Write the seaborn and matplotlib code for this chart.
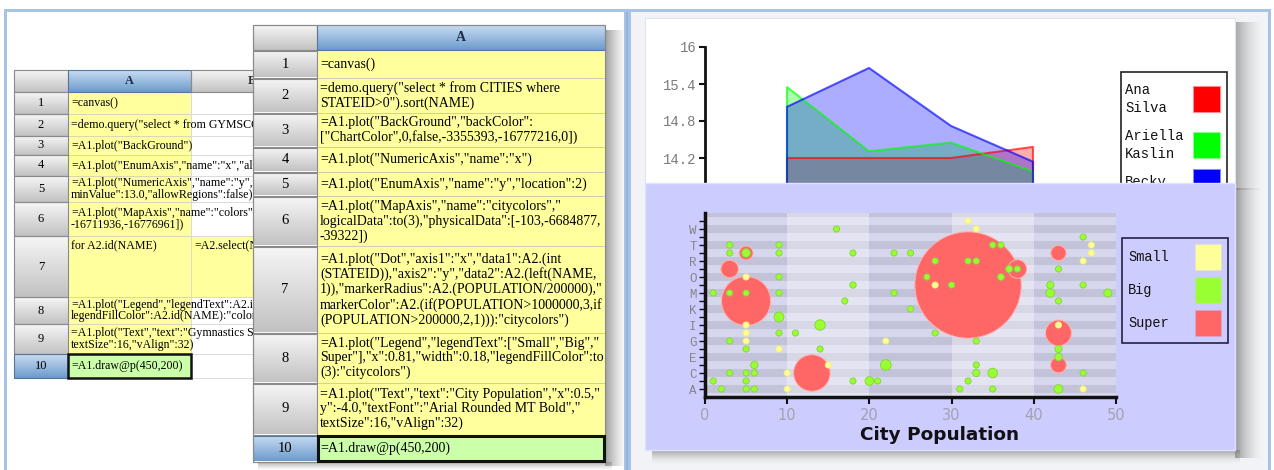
import numpy as np
import pandas as pd
import matplotlib
matplotlib.use("Agg")
import matplotlib.pyplot as plt
from matplotlib.colors import to_rgba
from matplotlib.patches import Rectangle
import seaborn as sns

W, H = 1274, 470

# ---------------- data ----------------
back_cells_A = [
    '=canvas()',
    '=demo.query("select * from GYMSCORE',
    '=A1.plot("BackGround")',
    '=A1.plot("EnumAxis","name":"x","all',
    '=A1.plot("NumericAxis","name":"y",\nminValue":13.0,"allowRegions":false)',
    '=A1.plot("MapAxis","name":"colors"\n-16711936,-16776961])',
    'for A2.id(NAME)',
    '=A1.plot("Legend","legendText":A2.i\nlegendFillColor":A2.id(NAME):"color',
    '=A1.plot("Text","text":"Gymnastics S\ntextSize":16,"vAlign":32)',
    '=A1.draw@p(450,200)',
]
back_cell_B7 = '=A2.select(N'

front_cells_A = [
    '=canvas()',
    '=demo.query("select * from CITIES where\nSTATEID>0").sort(NAME)',
    '=A1.plot("BackGround","backColor":\n["ChartColor",0,false,-3355393,-16777216,0])',
    '=A1.plot("NumericAxis","name":"x")',
    '=A1.plot("EnumAxis","name":"y","location":2)',
    '=A1.plot("MapAxis","name":"citycolors","\nlogicalData":to(3),"physicalData":[-103,-6684877,\n-39322])',
    '=A1.plot("Dot","axis1":"x","data1":A2.(int\n(STATEID)),"axis2":"y","data2":A2.(left(NAME,\n1)),"markerRadius":A2.(POPULATION/200000),"\nmarkerColor":A2.(if(POPULATION>1000000,3,if\n(POPULATION>200000,2,1))):"citycolors")',
    '=A1.plot("Legend","legendText":["Small","Big","\nSuper"],"x":0.81,"width":0.18,"legendFillColor":to\n(3):"citycolors")',
    '=A1.plot("Text","text":"City Population","x":0.5,"\ny":-4.0,"textFont":"Arial Rounded MT Bold","\ntextSize":16,"vAlign":32)',
    '=A1.draw@p(450,200)',
]

# area chart (gymnastics)
area_x = [1, 2, 3, 4]
area_names = ["Ana Silva", "Ariella Kaslin", "Becky"]
ana_silva = [14.2, 14.2, 14.2, 14.38]
ariella_kaslin = [15.35, 14.31, 14.45, 13.98]
becky = [15.03, 15.66, 14.72, 14.14]
area_colors = ["#ff0000", "#00ff00", "#0000ff"]
area_yticks = [14.2, 14.8, 15.4, 16]

# bubble chart (cities)
letters = list("ABCDEFGHIJKLMNOPRSTVWY")
city_state = [1, 1, 2, 3, 3, 3, 3, 3, 3, 5, 5, 5, 5, 5, 5, 5, 5, 5, 5, 5, 5,
              6, 6, 6, 9, 9, 9, 9, 9, 9, 9, 10, 10, 11, 13, 14, 14, 15, 16, 17,
              18, 18, 18, 20, 21, 22, 22, 23, 23, 25, 25,
              27, 28, 28, 28, 30, 31, 32, 32, 32, 32, 33, 33, 33, 33, 33,
              35, 35, 35, 36, 36, 38, 37, 38,
              42, 42, 43, 43, 43, 43, 43, 43, 43, 43, 43, 46, 46, 46, 46, 46,
              47, 47, 49]
city_letter = ['B', 'M', 'A', 'T', 'S', 'P', 'M', 'G', 'C', 'S', 'S', 'O', 'M', 'L', 'I', 'H', 'G', 'F', 'C', 'B', 'A',
               'D', 'C', 'A', 'T', 'S', 'O', 'M', 'J', 'H', 'F', 'C', 'A', 'H', 'C', 'I', 'F', 'D', 'W', 'L',
               'N', 'S', 'B', 'B', 'B', 'G', 'D', 'S', 'M', 'S', 'K',
               'O', 'R', 'N', 'H', 'N', 'A', 'Y', 'R', 'N', 'B', 'W', 'R', 'G', 'D', 'C',
               'T', 'C', 'A', 'T', 'O', 'P', 'P', 'P',
               'N', 'M', 'S', 'P', 'L', 'I', 'H', 'F', 'E', 'D', 'A', 'V', 'R', 'N', 'C', 'A',
               'T', 'S', 'M']
city_pop = [240, 210, 280, 480, 220, 1320, 440, 220, 230, 1050, 640, 190, 210, 3700, 150, 160, 190, 430, 210, 250, 330,
            550, 360, 280, 300, 300, 210, 360, 740, 230, 150, 180, 100, 370, 2750, 780, 220, 195, 340, 260,
            480, 210, 230, 650, 300, 195, 800, 290, 380, 350, 440,
            390, 210, 115, 210, 270, 450, 195, 220, 8000, 290, 185, 280, 225, 210, 540,
            310, 710, 215, 390, 500, 1400, 530, 330,
            545, 650, 1150, 220, 215, 190, 1950, 530, 560, 1190, 650, 425, 195, 235, 210, 130,
            195, 195, 600]
class_names = ["Small", "Big", "Super"]
class_colors = ["#ffff99", "#99ff33", "#ff6666"]

# ---------------- helpers ----------------
fig = plt.figure(figsize=(W / 100, H / 100), dpi=100)
fig.patch.set_facecolor("white")


def fr(x0, y0, x1, y1):
    return [x0 / W, 1 - y1 / H, (x1 - x0) / W, (y1 - y0) / H]


def canvas(z):
    a = fig.add_axes([0, 0, 1, 1])
    a.set_xlim(0, W)
    a.set_ylim(H, 0)
    a.set_autoscale_on(False)
    a.axis("off")
    a.set_zorder(z)
    a.patch.set_alpha(0)
    return a


def grad(a, x0, y0, x1, y1, c0, c1, horizontal=False, z=1):
    t = np.linspace(0, 1, 48)[:, None]
    arr = np.array(to_rgba(c0)) * (1 - t) + np.array(to_rgba(c1)) * t
    img = arr[None, :, :] if horizontal else arr[:, None, :]
    a.imshow(img, extent=(x0, x1, y1, y0), aspect="auto",
             interpolation="bilinear", zorder=z)


def rect(a, x0, y0, x1, y1, fc="none", ec="none", lw=0, z=1):
    a.add_patch(Rectangle((x0, y0), x1 - x0, y1 - y0, facecolor=fc,
                          edgecolor=ec, linewidth=lw, zorder=z))


SERIF = "Liberation Serif"
MONO = "Liberation Mono"
YELLOW = "#ffff9e"
GREEN = "#ccffaa"

# ---------------- background canvas ----------------
bg = canvas(0)
frame_c = "#a8c4e4"
rect(bg, 631, 12, 1268, 470, fc="#f1f3f6", z=0.5)
rect(bg, 4, 9, 1271, 12, fc=frame_c, z=20)
rect(bg, 4, 9, 7, 470, fc=frame_c, z=20)
rect(bg, 1268, 9, 1271, 470, fc=frame_c, z=20)
rect(bg, 624, 12, 631, 470, fc=frame_c, z=20)
rect(bg, 626, 12, 628, 470, fc="#93b4da", z=20.1)


def button(a, x0, y0, x1, y1, blue=False, z=1):
    if blue:
        grad(a, x0, y0, x1, y1, "#c8ddf2", "#6d9bcc", z=z)
        rect(a, x0, y0, x1, y1, ec="#56769c", lw=0.8, z=z + 0.05)
    else:
        grad(a, x0, y0, x1, y1, "#f6f6f6", "#c2c2c2", z=z)
        rect(a, x0, y0, x1, y1, ec="#8a8a8a", lw=0.8, z=z + 0.05)


back_clip = Rectangle((0, 0), 252, H, transform=bg.transData)
BFS = 8.6

# ---- back spreadsheet ----
bxn, bxa, bxb = (14, 68), (68, 191), (191, 311)
b_head = (70, 92)
b_rows = [(92, 114), (114, 136), (136, 155), (155, 176), (176, 202), (202, 236),
          (236, 297), (297, 324), (324, 354), (354, 378)]
zb = 2
button(bg, bxn[0], b_head[0], bxn[1], b_head[1], z=zb)
button(bg, bxa[0], b_head[0], bxa[1], b_head[1], blue=True, z=zb)
button(bg, bxb[0], b_head[0], bxb[1], b_head[1], z=zb)
bg.text(sum(bxa) / 2, sum(b_head) / 2, "A", family=SERIF, fontsize=8.8,
        weight="bold", color="#1b2a48", ha="center", va="center", zorder=zb + 1)
tb = bg.text(252, sum(b_head) / 2, "B", family=SERIF, fontsize=8.8,
             weight="bold", color="#333333", ha="center", va="center", zorder=zb + 1)
tb.set_clip_path(back_clip)
for i, (y0, y1) in enumerate(b_rows):
    last = i == len(b_rows) - 1
    button(bg, bxn[0], y0, bxn[1], y1, blue=last, z=zb)
    bg.text(sum(bxn) / 2, (y0 + y1) / 2, str(i + 1), family=SERIF, fontsize=9,
            ha="center", va="center", zorder=zb + 1)
    rect(bg, bxa[0], y0, bxa[1], y1, fc=GREEN if last else YELLOW,
         ec="#d4d4b4", lw=0.6, z=zb)
    rect(bg, bxb[0], y0, bxb[1], y1, fc=YELLOW if i == 6 else "white",
         ec="#d8d8d8", lw=0.6, z=zb)
    top = i == 6
    t = bg.text(bxa[0] + 3, y0 + 3 if top else (y0 + y1) / 2, back_cells_A[i],
                family=SERIF, fontsize=BFS, linespacing=0.95, ha="left",
                va="top" if top else "center", zorder=zb + 1)
    t.set_clip_path(back_clip)
    if i == 6:
        t = bg.text(bxb[0] + 3, y0 + 3, back_cell_B7, family=SERIF, fontsize=BFS,
                    ha="left", va="top", zorder=zb + 1)
        t.set_clip_path(back_clip)
    if last:
        rect(bg, bxa[0], y0, bxa[1], y1, ec="#111111", lw=1.8, z=zb + 0.5)

# ---- front spreadsheet ----
fxn, fxa = (253, 317), (317, 605)
f_head = (25, 50)
f_rows = [(50, 78), (78, 113), (113, 147), (147, 172), (172, 196), (196, 246),
          (246, 333), (333, 383), (383, 435), (435, 462)]
zf = 10
grad(bg, 605, 30, 626, 466, (0.55, 0.55, 0.55, 0.85), (0.7, 0.7, 0.7, 0.0),
     horizontal=True, z=zf - 1)
grad(bg, 258, 462, 612, 470, (0.55, 0.55, 0.55, 0.7), (0.7, 0.7, 0.7, 0.0), z=zf - 1)
rect(bg, fxn[0], f_head[0], fxa[1], f_rows[-1][1], fc="white", z=zf - 0.5)
button(bg, fxn[0], f_head[0], fxn[1], f_head[1], z=zf)
button(bg, fxa[0], f_head[0], fxa[1], f_head[1], blue=True, z=zf)
bg.text(sum(fxa) / 2, sum(f_head) / 2, "A", family=SERIF, fontsize=10,
        weight="bold", color="#1b2a48", ha="center", va="center", zorder=zf + 1)
for i, (y0, y1) in enumerate(f_rows):
    last = i == len(f_rows) - 1
    button(bg, fxn[0], y0 + 0.5, fxn[1], y1 - 0.5, blue=last, z=zf)
    bg.text(sum(fxn) / 2, (y0 + y1) / 2, str(i + 1), family=SERIF, fontsize=10.5,
            ha="center", va="center", zorder=zf + 1)
    rect(bg, fxa[0], y0, fxa[1], y1, fc=GREEN if last else YELLOW,
         ec="#cfcfae", lw=0.7, z=zf)
    bg.text(fxa[0] + 3, (y0 + y1) / 2, front_cells_A[i], family=SERIF,
            fontsize=10.0, linespacing=1.14, ha="left", va="center", zorder=zf + 1)
    if last:
        rect(bg, fxa[0] + 1, y0 + 1, fxa[1] - 1, y1 - 1, ec="#111111", lw=2.2,
             z=zf + 0.5)
rect(bg, fxn[0], f_head[0], fxa[1], f_rows[-1][1], ec="#8a8a8a", lw=0.8, z=zf + 0.3)

# ---- area chart card ----
grad(bg, 1235, 22, 1262, 190, (0.55, 0.55, 0.55, 0.75), (0.8, 0.8, 0.8, 0.0),
     horizontal=True, z=3)
rect(bg, 645, 18, 1235, 190, fc="white", ec="#e2e6ea", lw=0.8, z=4)

# ---------------- area chart ----------------
ax1 = fig.add_axes(fr(705, 47, 1115, 232))
ax1.set_zorder(1)
ax1.patch.set_alpha(0)
for vals, c in zip([ana_silva, ariella_kaslin, becky], area_colors):
    ax1.fill_between(area_x, vals, 13, facecolor=to_rgba(c, 0.32), edgecolor="none")
    xs = [area_x[0]] + list(area_x) + [area_x[-1]]
    ys = [13] + list(vals) + [13]
    sns.lineplot(x=xs, y=ys, color=c, alpha=0.65, lw=1.5, estimator=None,
                 sort=False, ax=ax1)
ax1.set_xlim(0, 5)
ax1.set_ylim(13, 16)
ax1.set_xticks([])
ax1.set_yticks(area_yticks)
ax1.set_yticklabels([f"{v:g}" for v in area_yticks])
for s in ["top", "right", "bottom"]:
    ax1.spines[s].set_visible(False)
ax1.spines["left"].set_linewidth(2)
ax1.spines["left"].set_color("#111111")
ax1.tick_params(axis="y", direction="out", length=4, width=1.5, color="#111111",
                labelsize=10, labelcolor="#7c7c7c", pad=2)
for lab in ax1.get_yticklabels():
    lab.set_family(MONO)
ax1.set_xlabel("")
ax1.set_ylabel("")

# area legend
ov1 = canvas(2)
rect(ov1, 1121, 72, 1227, 250, fc="white", ec="#222222", lw=1.2, z=1)
leg_y = [99, 145, 182]
for name, c, yc in zip(area_names, area_colors, leg_y):
    ov1.text(1125, yc, name.replace(" ", "\n"), family=MONO, fontsize=10,
             linespacing=1.3, ha="left", va="center", color="#111111", zorder=2)
    rect(ov1, 1194, yc - 12.5, 1220, yc + 12.5, fc=c, ec=to_rgba(c, 0.45), lw=1.5, z=2)

# ---------------- bubble card ----------------
ov2 = canvas(3)
grad(ov2, 1235, 188, 1262, 458, (0.5, 0.5, 0.5, 0.8), (0.8, 0.8, 0.8, 0.0),
     horizontal=True, z=1)
grad(ov2, 652, 450, 1240, 464, (0.5, 0.5, 0.5, 0.7), (0.8, 0.8, 0.8, 0.0), z=1)
rect(ov2, 645, 183, 1235, 450, fc="#ccccff", ec="#e2e2ff", lw=1, z=2)
ov2.text(940, 435, "City Population", family="DejaVu Sans", weight="bold",
         fontsize=13.3, ha="center", va="center", color="#111111", zorder=3)
rect(ov2, 1122, 238, 1228, 343, ec="#222244", lw=1.2, z=3)
for name, c, yc in zip(class_names, class_colors, [257, 290, 323]):
    ov2.text(1128, yc, name, family=MONO, fontsize=9.8, ha="left", va="center",
             color="#111111", zorder=3)
    rect(ov2, 1196, yc - 12.5, 1221, yc + 12.5, fc=c, ec=to_rgba(c, 0.5), lw=1.2, z=3)

# ---------------- bubble chart ----------------
ax2 = fig.add_axes(fr(705, 213, 1116, 397))
ax2.set_zorder(4)
ax2.patch.set_alpha(0)
for k in range(-1, 23):
    ax2.axhspan(k - 0.5, k + 0.5, color="#c2c2d8" if k % 2 == 0 else "#d6d6ec",
                lw=0, zorder=0)
for x0 in (10, 30):
    ax2.axvspan(x0, x0 + 10, color="white", alpha=0.35, lw=0, zorder=0.5)

df = pd.DataFrame({"state": city_state, "letter": city_letter, "pop": city_pop})
df["y"] = df["letter"].map(letters.index)
df["cls"] = np.where(df["pop"] > 1000, "Super",
                     np.where(df["pop"] > 200, "Big", "Small"))
df["r"] = np.maximum(df["pop"] / 200.0, 2.3) * 1.33          # pixels
df["s"] = (2 * df["r"] * 0.72) ** 2
df = df.sort_values("r", ascending=False, kind="stable").reset_index(drop=True)
edge_map = {"Super": "#ffb4b4", "Big": "#84d83c", "Small": "#f0f07a"}
sns.scatterplot(data=df, x="state", y="y", hue="cls",
                palette=dict(zip(class_names, class_colors)),
                s=df["s"].values, edgecolor=df["cls"].map(edge_map).values,
                linewidth=0.7, legend=False, ax=ax2, zorder=3)
ax2.set_xlim(0, 50)
ax2.set_ylim(-1, 22)
ax2.set_xticks(range(0, 51, 10))
ax2.set_yticks(range(len(letters)))
ax2.set_yticklabels([l if i % 2 == 0 else "" for i, l in enumerate(letters)])
for s in ["top", "right"]:
    ax2.spines[s].set_visible(False)
for s in ["left", "bottom"]:
    ax2.spines[s].set_linewidth(2.5)
    ax2.spines[s].set_color("#111111")
ax2.tick_params(axis="x", direction="out", length=5, width=1.5, color="#111111",
                labelsize=10.5, labelcolor="#a2a2b0", pad=3)
ax2.tick_params(axis="y", direction="out", length=4, width=1, color="#111111",
                labelsize=9, labelcolor="#858585", pad=2)
for lab in ax2.get_yticklabels():
    lab.set_family(MONO)
ax2.set_xlabel("")
ax2.set_ylabel("")

fig.savefig("out.png", dpi=100, facecolor=fig.get_facecolor())
